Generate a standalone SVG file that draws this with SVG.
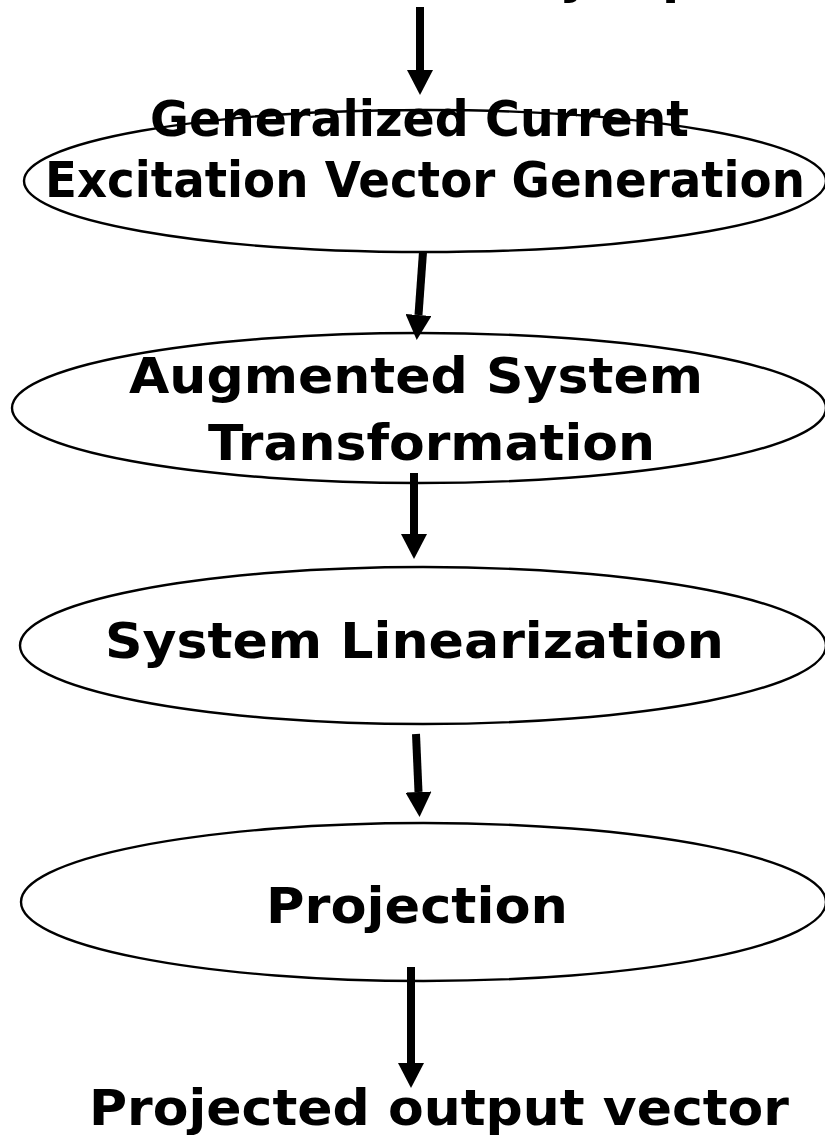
<svg xmlns="http://www.w3.org/2000/svg" width="825" height="1136" viewBox="0 0 825 1136">
<style>
.node ellipse{fill:none;stroke:#000;stroke-width:2.4}
text{font-family:"DejaVu Sans","Liberation Sans",sans-serif;font-weight:bold;font-size:50px;fill:#000}
.conn line{stroke:#000;stroke-width:8;marker-end:url(#ah)}
</style>
<defs>
<marker id="ah" viewBox="0 0 25 26" refX="0" refY="13" markerWidth="25" markerHeight="26" markerUnits="userSpaceOnUse" orient="auto">
<path d="M0,0 L25,13 L0,26 z" fill="#000"/>
</marker>
</defs>
<rect width="825" height="1136" fill="#fff"/>
<g id="input"><text x="336" y="-7">Arbitrary input</text></g>
<g id="n1" class="node">
<ellipse cx="425" cy="181" rx="401" ry="71"/>
<text x="150" y="136" textLength="539" lengthAdjust="spacingAndGlyphs">Generalized Current</text>
<text x="45" y="197" textLength="760" lengthAdjust="spacingAndGlyphs">Excitation Vector Generation</text>
</g>
<g id="n2" class="node">
<ellipse cx="419" cy="408" rx="407" ry="75"/>
<text x="129" y="393" textLength="574" lengthAdjust="spacingAndGlyphs">Augmented System</text>
<text x="208" y="460" textLength="447" lengthAdjust="spacingAndGlyphs">Transformation</text>
</g>
<g id="n3" class="node">
<ellipse cx="423" cy="645.5" rx="403" ry="78.5"/>
<text x="105" y="658" textLength="619" lengthAdjust="spacingAndGlyphs">System Linearization</text>
</g>
<g id="n4" class="node">
<ellipse cx="423.5" cy="902" rx="402.5" ry="79"/>
<text x="266" y="923" textLength="302" lengthAdjust="spacingAndGlyphs">Projection</text>
</g>
<g id="output"><text x="89" y="1125" textLength="700" lengthAdjust="spacingAndGlyphs">Projected output vector</text></g>
<g id="connectors" class="conn">
<line x1="420" y1="7" x2="420" y2="70"/>
<line x1="423" y1="252" x2="418.5" y2="315"/>
<line x1="414" y1="473" x2="414" y2="534"/>
<line x1="416" y1="734" x2="418.5" y2="792"/>
<line x1="411" y1="967" x2="411" y2="1063"/>
</g>
</svg>
